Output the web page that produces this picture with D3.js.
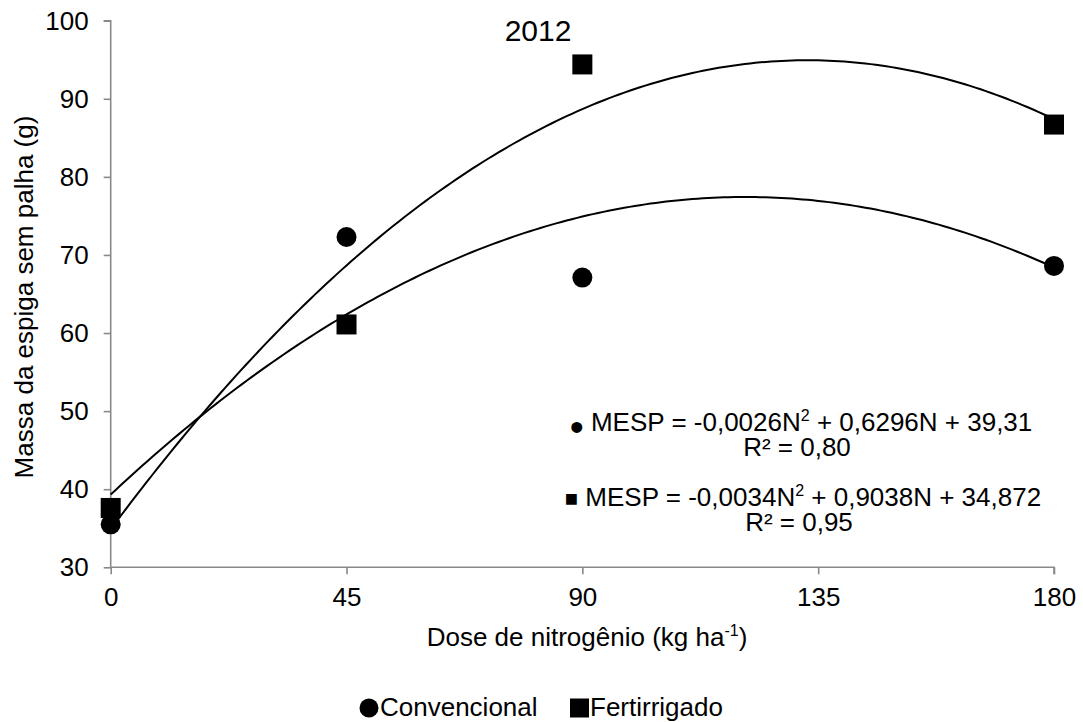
<!DOCTYPE html>
<html>
<head>
<meta charset="utf-8">
<script src="https://cdn.jsdelivr.net/npm/d3@7"></script>
<style>
  html, body { margin: 0; padding: 0; background: #fff; }
  svg { display: block; font-family: "Liberation Sans", Arial, sans-serif; }
</style>
</head>
<body>
<svg id="chart" width="1083" height="722"></svg>
<script>
// Nitrogen doses (kg ha-1) and ear mass without husk (g)
const doses = [0, 45, 90, 180];
const convencional = [35.5, 72.3, 67.1, 68.6];
const fertirrigado = [37.6, 61.1, 94.4, 86.7];

// Quadratic trendlines: [a, b, c] for a*N^2 + b*N + c
const fitCirculo = [-0.0026, 0.6296, 39.31];
const fitQuadrado = [-0.0034, 0.9038, 34.872];

const xTicks = [0, 45, 90, 135, 180];
const yTicks = [30, 40, 50, 60, 70, 80, 90, 100];

const W = 1083, H = 722;
const margin = { left: 110.7, right: 29, top: 20.7, bottom: 154.7 };
const svg = d3.select("#chart");

const x = d3.scaleLinear().domain([0, 180]).range([margin.left, W - margin.right]);
const y = d3.scaleLinear().domain([30, 100]).range([H - margin.bottom, margin.top]);

const axisColor = "#898989";
const fontSize = 26;

// Y axis
const gy = svg.append("g")
  .attr("transform", `translate(${x(0)},0)`)
  .call(d3.axisLeft(y).tickValues(yTicks).tickSize(7).tickPadding(15).tickFormat(d3.format("d")));
// X axis
const gx = svg.append("g")
  .attr("transform", `translate(0,${y(30)})`)
  .call(d3.axisBottom(x).tickValues(xTicks).tickSize(7).tickPadding(13).tickFormat(d3.format("d")));

[gx, gy].forEach(g => {
  g.select(".domain").attr("stroke", axisColor).attr("stroke-width", 1.6);
  g.selectAll(".tick line").attr("stroke", axisColor).attr("stroke-width", 1.6);
  g.selectAll(".tick text").attr("fill", "#000").attr("font-size", fontSize)
    .attr("font-family", "Liberation Sans, Arial, sans-serif");
});
gy.select(".domain").attr("d", `M-7,${y(100)}H0V${y(30)}`);
gx.select(".domain").attr("d", `M${x(0)},0H${x(180)}V7`);

// Trend curves
const poly = (c, n) => c[0] * n * n + c[1] * n + c[2];
const ns = d3.range(0, 180.5, 1);
const line = d3.line().x(d => x(d[0])).y(d => y(d[1]));
[fitCirculo, fitQuadrado].forEach(c => {
  svg.append("path")
    .attr("d", line(ns.map(n => [n, poly(c, n)])))
    .attr("fill", "none").attr("stroke", "#000").attr("stroke-width", 2);
});

// Markers
const msize = 20;
svg.append("g").selectAll("circle").data(doses).join("circle")
  .attr("cx", d => x(d)).attr("cy", (d, i) => y(convencional[i]))
  .attr("r", msize / 2).attr("fill", "#000");
svg.append("g").selectAll("rect").data(doses).join("rect")
  .attr("x", d => x(d) - msize / 2).attr("y", (d, i) => y(fertirrigado[i]) - msize / 2)
  .attr("width", msize).attr("height", msize).attr("fill", "#000");

// Title
svg.append("text").attr("x", 538).attr("y", 41).attr("text-anchor", "middle")
  .attr("font-size", 30).text("2012");

// Axis titles
const xt = svg.append("text").attr("x", 587).attr("y", 646)
  .attr("text-anchor", "middle").attr("font-size", fontSize);
xt.append("tspan").text("Dose de nitrogênio (kg ha");
xt.append("tspan").attr("font-size", 16).attr("dy", -10).text("-1");
xt.append("tspan").attr("dy", 10).text(")");

svg.append("text").attr("transform", "translate(33,297) rotate(-90)")
  .attr("text-anchor", "middle").attr("font-size", fontSize)
  .text("Massa da espiga sem palha (g)");

// Regression equations with their marker symbol
function equation(cx, baseline, marker, a, b, c, r2) {
  const t = svg.append("text").attr("x", cx).attr("y", baseline)
    .attr("text-anchor", "middle").attr("font-size", fontSize);
  if (marker === "•") {
    t.append("tspan").attr("font-size", 40).attr("dy", 10).text(marker);
    t.append("tspan").attr("dy", -10).text(` MESP = ${a}N`);
  } else {
    t.append("tspan").attr("font-size", fontSize - 4).text(marker);
    t.append("tspan").text(` MESP = ${a}N`);
  }
  t.append("tspan").attr("font-size", 16).attr("dy", -10).text("2");
  t.append("tspan").attr("dy", 10).text(` + ${b}N + ${c}`);
  svg.append("text").attr("x", cx - 4).attr("y", baseline + 25)
    .attr("text-anchor", "middle").attr("font-size", fontSize).text(`R² = ${r2}`);
}
equation(801, 431, "•", "-0,0026", "0,6296", "39,31", "0,80");
equation(803, 506, "■", "-0,0034", "0,9038", "34,872", "0,95");

// Legend
const ly = 708;
svg.append("circle").attr("cx", 369).attr("cy", ly).attr("r", 9.5).attr("fill", "#000");
svg.append("text").attr("x", 380).attr("y", 716).attr("font-size", fontSize).text("Convencional");
svg.append("rect").attr("x", 570).attr("y", ly - 9.5).attr("width", 19).attr("height", 19).attr("fill", "#000");
svg.append("text").attr("x", 590).attr("y", 716).attr("font-size", fontSize).text("Fertirrigado");
</script>
</body>
</html>
